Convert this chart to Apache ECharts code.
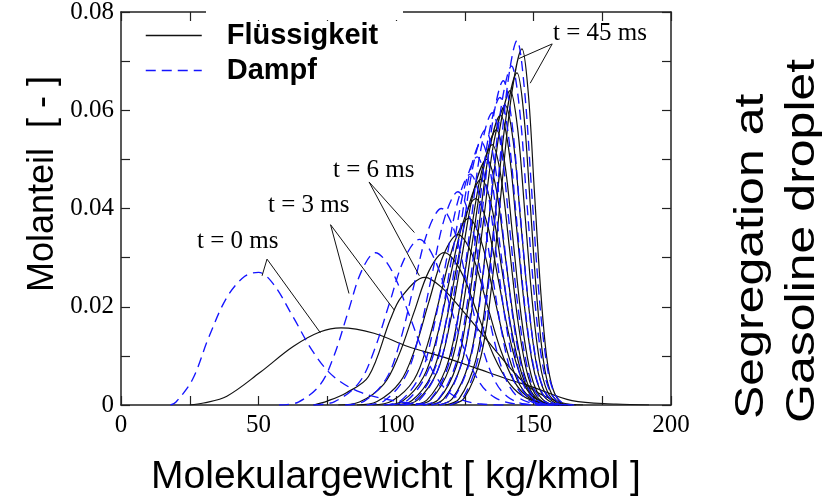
<!DOCTYPE html>
<html>
<head>
<meta charset="utf-8">
<script src="https://cdn.jsdelivr.net/npm/echarts@6/dist/echarts.min.js"></script>
<style>
  html, body { margin: 0; padding: 0; background: #fff; }
  #chart { width: 839px; height: 503px; }
</style>
</head>
<body>
<div id="chart"></div>
<script>
// liquid (Flüssigkeit) distributions, [molecular weight, mole fraction], t = 0 ... 45 ms
const liq00 = [[25,0],[30,0.0004],[38.5,0.0018],[50.5,0.0066],[62.6,0.0119],[72.5,0.0149],[80,0.0157],[92,0.0146],[104.3,0.0119],[116.5,0.0099],[128.6,0.0076],[141,0.0052],[149.5,0.0037],[164,0.0009],[180,0.0002],[192,0]];
const liq01 = [[70,0],[75,0.0008],[82,0.0025],[90,0.0058],[98,0.0175],[102,0.022],[110.5,0.026],[116.5,0.024],[125,0.0187],[135,0.0119],[143,0.0066],[149.5,0.0032],[160,0.0005],[168,0]];
const liq02 = [[79,0],[86.7,0.0006],[95.5,0.0042],[101,0.0101],[106.5,0.0188],[112,0.0273],[117.5,0.031],[123.5,0.0273],[129.5,0.0188],[135.5,0.0101],[141.5,0.0042],[147.5,0.0014],[155.9,0.0002],[165.5,0]];
const liq03 = [[85.8,0],[93.1,0.0007],[101.5,0.0047],[106.8,0.0113],[112,0.0211],[117.3,0.0306],[122.5,0.0347],[127.7,0.0306],[132.8,0.0211],[138,0.0113],[143.1,0.0047],[148.3,0.0015],[155.5,0.0002],[163.5,0]];
const liq04 = [[91.5,0],[98.5,0.0008],[106.5,0.0051],[111.5,0.0124],[116.5,0.0231],[121.5,0.0335],[126.5,0.038],[130.9,0.0335],[135.3,0.0231],[139.7,0.0124],[144.1,0.0051],[148.5,0.0017],[154.7,0.0002],[161.5,0]];
const liq05 = [[95.8,0],[102.4,0.0008],[110,0.0057],[114.8,0.0137],[119.5,0.0255],[124.3,0.037],[129,0.042],[133.1,0.037],[137.2,0.0255],[141.3,0.0137],[145.4,0.0057],[149.5,0.0018],[155.2,0.0003],[162,0]];
const liq06 = [[99.5,0],[105.8,0.0009],[113,0.0062],[117.5,0.015],[122,0.0279],[126.5,0.0406],[131,0.046],[134.7,0.0406],[138.4,0.0279],[142.1,0.015],[145.8,0.0062],[149.5,0.002],[154.7,0.0003],[161,0]];
const liq07 = [[101.5,0],[107.8,0.001],[115,0.0068],[119.5,0.0163],[124,0.0304],[128.5,0.0441],[133,0.05],[136.4,0.0441],[139.7,0.0304],[143.1,0.0163],[146.4,0.0068],[149.8,0.0022],[154.4,0.0003],[160,0]];
const liq08 = [[105.3,0],[111.2,0.001],[118,0.0072],[122.3,0.0172],[126.5,0.0322],[130.8,0.0467],[135,0.053],[138.1,0.0467],[141.2,0.0322],[144.3,0.0172],[147.4,0.0072],[150.5,0.0023],[154.8,0.0003],[160,0]];
const liq09 = [[106.8,0],[112.7,0.0011],[119.5,0.0076],[123.8,0.0182],[128,0.034],[132.3,0.0494],[136.5,0.056],[139.5,0.0494],[142.5,0.034],[145.5,0.0182],[148.5,0.0076],[151.5,0.0025],[155.7,0.0003],[160.5,0]];
const liq10 = [[110,0],[115.6,0.0012],[122,0.008],[126,0.0192],[130,0.0358],[134,0.052],[138,0.059],[141,0.052],[143.9,0.0358],[146.9,0.0192],[149.8,0.008],[152.8,0.0026],[156.9,0.0004],[161.6,0]];
const liq11 = [[111.7,0],[117.3,0.0012],[123.7,0.0082],[127.7,0.0198],[131.7,0.037],[135.7,0.0538],[139.7,0.061],[142.6,0.0538],[145.4,0.037],[148.3,0.0198],[151.1,0.0082],[154,0.0027],[157.9,0.0004],[162.5,0]];
const liq12 = [[115.3,0],[120.5,0.0013],[126.5,0.0086],[130.3,0.0208],[134,0.0388],[137.8,0.0564],[141.5,0.064],[144.2,0.0564],[146.9,0.0388],[149.6,0.0208],[152.3,0.0086],[155,0.0028],[158.8,0.0004],[163.1,0]];
const liq13 = [[117.8,0],[123,0.0013],[129,0.0091],[132.8,0.022],[136.5,0.041],[140.3,0.0596],[144,0.0676],[146.4,0.0596],[148.8,0.041],[151.2,0.022],[153.6,0.0091],[156,0.003],[159.4,0.0004],[163.2,0]];
const liq14 = [[119.6,0],[124.8,0.0014],[130.8,0.0097],[134.6,0.0234],[138.3,0.0437],[142.1,0.0635],[145.8,0.0725],[148.1,0.0635],[150.3,0.0437],[152.6,0.0234],[154.8,0.0097],[157.1,0.0032],[160.2,0.0004],[163.8,0]];

// vapour (Dampf) distributions
const vap00 = [[18,0],[20,0.0006],[26,0.0052],[32,0.0139],[38.5,0.0219],[45,0.0262],[50,0.027],[55.3,0.0247],[62.6,0.0179],[70,0.0107],[77.3,0.0058],[87,0.0026],[100,0.0008],[112,0]];
const vap01 = [[57.5,0],[64.5,0.0006],[72.5,0.0042],[77.5,0.0101],[82.5,0.0188],[87.5,0.0273],[92.5,0.031],[98.5,0.0273],[104.5,0.0188],[110.5,0.0101],[116.5,0.0042],[122.5,0.0014],[130.9,0.0002],[140.5,0]];
const vap02 = [[70,0],[77.7,0.0007],[86.5,0.0045],[92,0.011],[97.5,0.0205],[103,0.0297],[108.5,0.0337],[114,0.0297],[119.5,0.0205],[125,0.011],[130.5,0.0045],[136,0.0015],[143.7,0.0002],[152.5,0]];
const vap03 = [[81.5,0],[88.5,0.0008],[96.5,0.0054],[101.5,0.013],[106.5,0.0243],[111.5,0.0353],[116.5,0.04],[121.3,0.0353],[126,0.0243],[130.8,0.013],[135.5,0.0054],[140.3,0.0018],[146.9,0.0002],[154.5,0]];
const vap04 = [[89.3,0],[95.9,0.0009],[103.5,0.0059],[108.3,0.0141],[113,0.0263],[117.8,0.0383],[122.5,0.0434],[126.8,0.0383],[131,0.0263],[135.3,0.0141],[139.5,0.0059],[143.8,0.0019],[149.7,0.0003],[156.5,0]];
const vap05 = [[95.5,0],[101.8,0.0009],[109,0.0063],[113.5,0.0153],[118,0.0285],[122.5,0.0415],[127,0.047],[130.8,0.0415],[134.5,0.0285],[138.3,0.0153],[142,0.0063],[145.8,0.0021],[151,0.0003],[157,0]];
const vap06 = [[98,0],[104.3,0.001],[111.5,0.0068],[116,0.0164],[120.5,0.0307],[125,0.0445],[129.5,0.0505],[133,0.0445],[136.5,0.0307],[140,0.0164],[143.5,0.0068],[147,0.0022],[151.9,0.0003],[157.5,0]];
const vap07 = [[101.3,0],[107.2,0.0011],[114,0.0072],[118.3,0.0174],[122.5,0.0325],[126.8,0.0472],[131,0.0535],[134.4,0.0472],[137.8,0.0325],[141.2,0.0174],[144.6,0.0072],[148,0.0024],[152.8,0.0003],[158.2,0]];
const vap08 = [[102.8,0],[108.7,0.0011],[115.5,0.0076],[119.8,0.0182],[124,0.034],[128.3,0.0494],[132.5,0.056],[135.8,0.0494],[139.1,0.034],[142.4,0.0182],[145.7,0.0076],[149,0.0025],[153.6,0.0003],[158.9,0]];
const vap09 = [[107,0],[112.6,0.0012],[119,0.008],[123,0.0193],[127,0.0361],[131,0.0525],[135,0.0595],[138.2,0.0525],[141.3,0.0361],[144.5,0.0193],[147.6,0.008],[150.8,0.0026],[155.2,0.0004],[160.2,0]];
const vap10 = [[109.8,0],[115.4,0.0012],[121.8,0.0085],[125.8,0.0203],[129.8,0.038],[133.8,0.0552],[137.8,0.0626],[140.8,0.0552],[143.8,0.038],[146.8,0.0203],[149.8,0.0085],[152.8,0.0028],[157,0.0004],[161.8,0]];
const vap11 = [[112.8,0],[118,0.0013],[124,0.0089],[127.8,0.0215],[131.5,0.0401],[135.3,0.0582],[139,0.066],[142,0.0582],[145,0.0401],[148,0.0215],[151,0.0089],[154,0.0029],[158.2,0.0004],[163,0]];
const vap12 = [[115.8,0],[121,0.0014],[127,0.0093],[130.8,0.0224],[134.5,0.0419],[138.3,0.0609],[142,0.069],[144.8,0.0609],[147.5,0.0419],[150.3,0.0224],[153,0.0093],[155.8,0.003],[159.6,0.0004],[164,0]];
const vap13 = [[119.5,0],[124.4,0.0015],[130,0.0099],[133.5,0.0239],[137,0.0447],[140.5,0.0649],[144,0.0742],[146.6,0.0649],[149.2,0.0447],[151.8,0.0239],[154.4,0.0099],[157,0.0032],[160.6,0.0004],[164.8,0]];

// leader lines of the time labels (curve point - label - curve point)
const lead00 = [[51.3,0.0263],[53.1,0.0297],[72.5,0.0147]];
const lead03 = [[82.9,0.0227],[76.2,0.0367],[99.4,0.0193]];
const lead06 = [[106.7,0.0351],[90.2,0.0454],[108.5,0.0263]];
const lead45 = [[144.6,0.0705],[156.8,0.0735],[148.8,0.0655]];

const liquidCurves = [liq00, liq01, liq02, liq03, liq04, liq05, liq06, liq07, liq08, liq09, liq10, liq11, liq12, liq13, liq14];
const vaporCurves = [vap00, vap01, vap02, vap03, vap04, vap05, vap06, vap07, vap08, vap09, vap10, vap11, vap12, vap13];
const leaders = [lead00, lead03, lead06, lead45];

const chart = echarts.init(document.getElementById('chart'));

const blue = '#1414ff';
const dash = [10, 6];

const series = [];
liquidCurves.forEach(d => {
  series.push({
    name: 'Flüssigkeit', type: 'line', data: d, smooth: 0.35, symbol: 'none',
    lineStyle: { color: '#111', width: 1.2 }, itemStyle: { color: '#111' },
    silent: true, animation: false, z: 2
  });
});
vaporCurves.forEach(d => {
  series.push({
    name: 'Dampf', type: 'line', data: d, smooth: 0.35, symbol: 'none',
    lineStyle: { color: blue, width: 1.35, type: dash }, itemStyle: { color: blue },
    silent: true, animation: false, z: 3
  });
});
leaders.forEach(d => {
  series.push({
    name: 'leader', type: 'line', data: d, symbol: 'none',
    lineStyle: { color: '#111', width: 1 }, silent: true, animation: false, z: 4
  });
});

const axisCol = '#222';
const serif = 'Liberation Serif';
const sans = 'Liberation Sans';

function yLab(v) {
  const k = Math.round(v * 100);
  if (k % 2 !== 0) return '';
  return k === 0 ? '0' : (k / 100).toFixed(2);
}

const tick = { show: true, inside: true, length: 9, lineStyle: { color: axisCol, width: 1.2 } };
const line = { show: true, onZero: false, lineStyle: { color: axisCol, width: 1.5 } };

chart.setOption({
  backgroundColor: '#fff',
  animation: false,
  grid: { left: 121, right: 168, top: 12, bottom: 98, containLabel: false, outerBoundsMode: 'none' },
  legend: {
    data: ['Flüssigkeit', 'Dampf'],
    orient: 'vertical', left: 145, top: 21, padding: 0,
    itemWidth: 56, itemHeight: 14, itemGap: 6,
    selectedMode: false,
    itemStyle: { opacity: 0 },
    lineStyle: { width: 1.5, opacity: 1 },
    textStyle: { fontFamily: sans, fontWeight: 'bold', fontSize: 29, color: '#000', padding: [0, 0, 0, 20] }
  },
  xAxis: [{
    type: 'value', min: 0, max: 200, interval: 25, position: 'bottom',
    name: 'Molekulargewicht [ kg/kmol ]', nameLocation: 'middle', nameGap: 53,
    nameTextStyle: { fontFamily: sans, fontSize: 39, color: '#000' },
    axisLine: line, axisTick: tick,
    axisLabel: { formatter: v => (v % 50 === 0 ? String(v) : ''), fontFamily: serif, fontSize: 25, color: '#000', margin: 8, showMinLabel: true, showMaxLabel: true },
    splitLine: { show: false }
  }, {
    type: 'value', min: 0, max: 200, interval: 25, position: 'top',
    axisLine: line, axisTick: tick, axisLabel: { show: false }, splitLine: { show: false }
  }],
  yAxis: [{
    type: 'value', min: 0, max: 0.08, interval: 0.01, position: 'left',
    axisLine: line, axisTick: tick,
    axisLabel: { formatter: yLab, fontFamily: serif, fontSize: 25, color: '#000', margin: 7, showMinLabel: true, showMaxLabel: true },
    splitLine: { show: false }
  }, {
    type: 'value', min: 0, max: 0.08, interval: 0.01, position: 'right',
    axisLine: line, axisTick: tick, axisLabel: { show: false }, splitLine: { show: false }
  }],
  graphic: [
    { type: 'rect', shape: { x: 206, y: 0, width: 197, height: 20 }, style: { fill: '#fff' }, z: 100, silent: true },
    { type: 'text', x: 43, y: 184, rotation: Math.PI / 2,
      style: { text: 'Molanteil  [ - ]', font: '36px "Liberation Sans"', fill: '#000', align: 'center', verticalAlign: 'middle' }, z: 100 },
    { type: 'text', left: 197, top: 229, style: { text: 't = 0 ms', font: '25px "Liberation Serif"', fill: '#000' }, z: 100 },
    { type: 'text', left: 268, top: 193, style: { text: 't = 3 ms', font: '25px "Liberation Serif"', fill: '#000' }, z: 100 },
    { type: 'text', left: 333, top: 158, style: { text: 't = 6 ms', font: '25px "Liberation Serif"', fill: '#000' }, z: 100 },
    { type: 'text', left: 553, top: 21, style: { text: 't = 45 ms', font: '25px "Liberation Serif"', fill: '#000' }, z: 100 },
    { type: 'text', x: 752, y: 419, rotation: Math.PI / 2, scaleX: 1.22,
      style: { text: 'Segregation at', font: '41px "Liberation Sans"', fill: '#000', align: 'left', verticalAlign: 'middle' }, z: 100 },
    { type: 'text', x: 803, y: 423, rotation: Math.PI / 2, scaleX: 1.22,
      style: { text: 'Gasoline droplet', font: '41px "Liberation Sans"', fill: '#000', align: 'left', verticalAlign: 'middle' }, z: 100 }
  ],
  series: series
});
</script>
</body>
</html>
